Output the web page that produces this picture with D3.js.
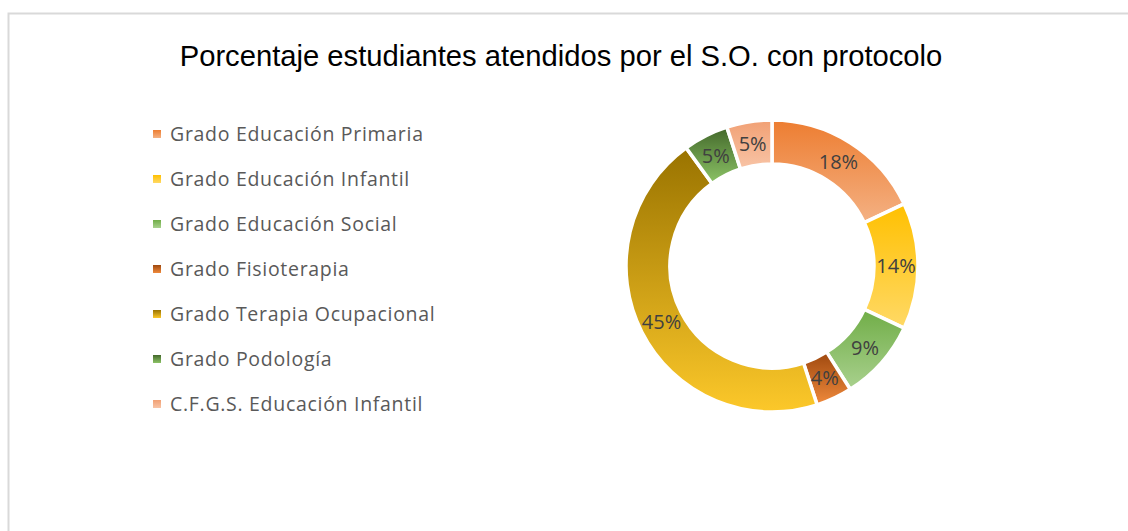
<!DOCTYPE html>
<html>
<head>
<meta charset="utf-8">
<script src="https://cdn.jsdelivr.net/npm/d3@7"></script>
<style>
  html, body { margin: 0; padding: 0; background: #fff; }
</style>
</head>
<body>
<div id="grafico"></div>
<script>
const WIDTH = 1128;
const HEIGHT = 531;

// datos
const categorias = [
    "Grado Educación Primaria",
    "Grado Educación Infantil",
    "Grado Educación Social",
    "Grado Fisioterapia",
    "Grado Terapia Ocupacional",
    "Grado Podología",
    "C.F.G.S. Educación Infantil"
];
const porcentajes = [18, 14, 9, 4, 45, 5, 5];
const etiquetas = ["18%", "14%", "9%", "4%", "45%", "5%", "5%"];

// colores degradado (arriba, abajo)
const colorArriba = ["#ED7D31", "#FFC000", "#70AD47", "#9E480E", "#997300", "#43682B", "#F1A074"];
const colorAbajo  = ["#F4B183", "#FFD966", "#A9D18E", "#F08A3C", "#FCC82A", "#8CC366", "#F8C4A6"];

let svg = d3.select("#grafico")
    .append("svg")
    .attr("width", WIDTH)
    .attr("height", HEIGHT);

// borde del área del gráfico
svg.append("rect")
    .attr("x", 8.5)
    .attr("y", 13.5)
    .attr("width", WIDTH + 20)
    .attr("height", HEIGHT + 20)
    .style("fill", "white")
    .style("stroke", "#d9d9d9")
    .style("stroke-width", 2);

svg.append("text")
    .attr("x", 561)
    .attr("y", 66)
    .attr("text-anchor", "middle")
    .style("font-family", "Liberation Sans, Arial, sans-serif")
    .style("font-size", "29.2px")
    .style("fill", "#000")
    .text("Porcentaje estudiantes atendidos por el S.O. con protocolo");

let defs = svg.append("defs");
categorias.forEach((c, i) => {
    let g = defs.append("linearGradient")
        .attr("id", "grad" + i)
        .attr("x1", 0).attr("y1", 0)
        .attr("x2", 0).attr("y2", 1);
    g.append("stop").attr("offset", "0%").attr("stop-color", colorArriba[i]);
    g.append("stop").attr("offset", "100%").attr("stop-color", colorAbajo[i]);
});

// leyenda
let legendY = d3.scalePoint()
    .domain(categorias)
    .range([134, 404]);

let leyenda = svg.append("g");
leyenda.selectAll("rect")
    .data(categorias)
    .enter()
    .append("rect")
    .attr("x", 153)
    .attr("y", (d) => legendY(d) - 4)
    .attr("width", 8)
    .attr("height", 8)
    .style("fill", (d, i) => "url(#grad" + i + ")");

leyenda.selectAll("text")
    .data(categorias)
    .enter()
    .append("text")
    .attr("x", 170)
    .attr("y", (d) => legendY(d))
    .attr("dy", "0.36em")
    .style("font-family", "Open Sans, sans-serif")
    .style("font-size", "19.5px")
    .style("letter-spacing", "0.7px")
    .style("fill", "#595959")
    .text((d) => d);

// anillo
const cx = 772;
const cy = 266;
const rExt = 146;
const rInt = 102;

let pie = d3.pie()
    .sort(null)
    .value((d) => d);

let arcos = pie(porcentajes);

let arc = d3.arc()
    .innerRadius(rInt)
    .outerRadius(rExt);

let arcLabel = d3.arc()
    .innerRadius((rInt + rExt) / 2)
    .outerRadius((rInt + rExt) / 2);

let anillo = svg.append("g")
    .attr("transform", "translate(" + cx + "," + cy + ")");

anillo.selectAll("path")
    .data(arcos)
    .enter()
    .append("path")
    .attr("d", arc)
    .style("fill", (d, i) => "url(#grad" + i + ")")
    .style("stroke", "white")
    .style("stroke-width", 3.5);

anillo.selectAll("text")
    .data(arcos)
    .enter()
    .append("text")
    .attr("x", (d) => arcLabel.centroid(d)[0])
    .attr("y", (d) => arcLabel.centroid(d)[1])
    .attr("dy", "0.36em")
    .attr("text-anchor", "middle")
    .style("font-family", "Open Sans, sans-serif")
    .style("font-size", "20px")
    .style("fill", "#404040")
    .text((d, i) => etiquetas[i]);
</script>
</body>
</html>
